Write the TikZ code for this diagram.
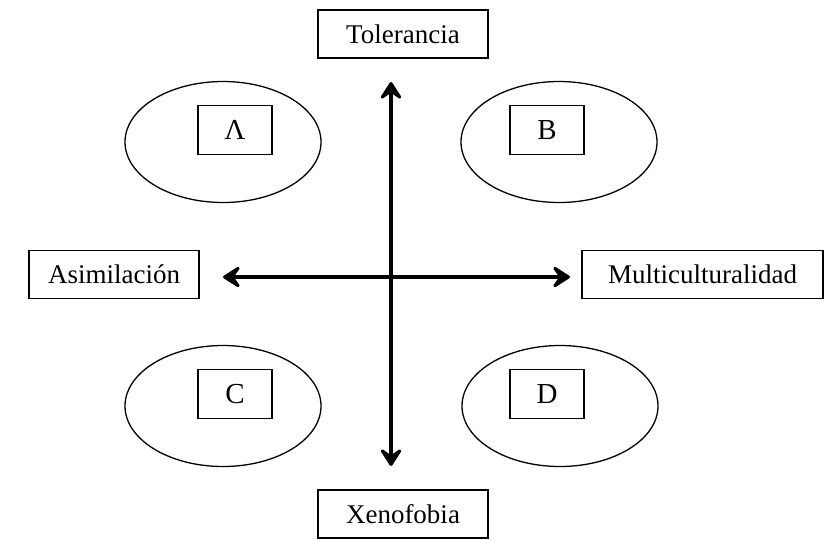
\documentclass[tikz,border=0pt]{standalone}
\usepackage{fontspec}
\setmainfont{Liberation Serif}
\usetikzlibrary{positioning}
\usetikzlibrary{arrows.meta}
\usetikzlibrary{shapes.geometric}

\begin{document}
\begin{tikzpicture}[x=1pt, y=-1pt, font=\fontsize{27}{32}\selectfont,
	axisbox/.style={draw, line width=1.3pt, minimum width=170pt, minimum height=48pt, inner sep=0pt},
	quadbox/.style={draw, line width=1.6pt, minimum width=74pt, minimum height=49pt, inner sep=0pt, font=\fontsize{29}{34}\selectfont},
	zone/.style={draw, ellipse, line width=1.3pt, minimum width=196pt, minimum height=121pt, inner sep=0pt},
	axis/.style={line width=4.5pt, {Stealth[length=22pt,width=28pt,inset=10pt,round]}-{Stealth[length=22pt,width=28pt,inset=10pt,round]}}]
	 % Fix the size of the page
	 \useasboundingbox (0,0) rectangle (824,539);

	 % Labels at the ends of the two axes
	 \node[axisbox] (tol) at (403,34) {Tolerancia};
	 \node[axisbox] (xen) at (403,514) {Xenofobia};
	 \node[axisbox] (asi) at (114,274.5) {Asimilación};
	 \node[axisbox, minimum width=241pt] (mul) at (702.5,274.5) {Multiculturalidad};

	 % Ends of the arrows
	 \coordinate (up) at (391,82);
	 \coordinate (down) at (391,466);
	 \coordinate (left) at (223,277);
	 \coordinate (right) at (570,277);

	 \draw[axis] (down) -- (up);
	 \draw[axis] (left) -- (right);

	 % One ellipse with a small box for each quadrant
	 \foreach \name/\ex/\ey/\bx/\by/\txt in {a/223/142/235/130/Λ, b/559/142/547/130/B, c/223/406/235/394/C, d/560/406/547/394/D} {
	 	\node[zone] (z\name) at (\ex,\ey) {};
	 	\node[quadbox] (q\name) at (\bx,\by) {\txt};
	 }
\end{tikzpicture}
\end{document}
